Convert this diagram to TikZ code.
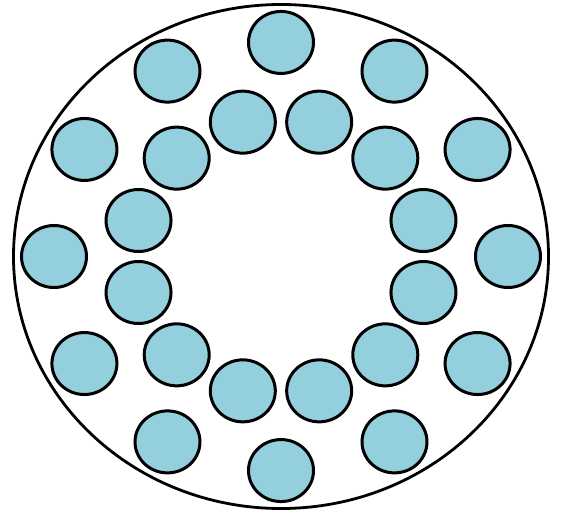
\documentclass[tikz,border=0pt]{standalone}
\usepackage{xcolor}
\definecolor{cSeat}{HTML}{93CFDC}
\definecolor{cLine}{HTML}{000000}
\usepackage{tikz}
\usetikzlibrary{shapes.geometric}
\tikzset{
  node-rim/.style={draw=cLine,line width=2.8pt,ellipse,inner sep=0pt,
    minimum width=535pt,minimum height=504pt},
  node-seat/.style={draw=cLine,line width=3pt,fill=cSeat,ellipse,inner sep=0pt,
    minimum width=65pt,minimum height=62pt},
}

\begin{document}
\begin{tikzpicture}[x=1pt,y=0.943pt]
  \useasboundingbox (-281pt,-257.5pt) rectangle (287pt,256.5pt);
  \node[node-rim] (rim) at (0,0) {};
  % outer ring
  \node[node-seat] (o1)  at (90:227)  {};
  \node[node-seat] (o2)  at (60:227)  {};
  \node[node-seat] (o3)  at (30:227)  {};
  \node[node-seat] (o4)  at (0:227)   {};
  \node[node-seat] (o5)  at (-30:227) {};
  \node[node-seat] (o6)  at (-60:227) {};
  \node[node-seat] (o7)  at (-90:227) {};
  \node[node-seat] (o8)  at (-120:227) {};
  \node[node-seat] (o9)  at (-150:227) {};
  \node[node-seat] (o10) at (180:227) {};
  \node[node-seat] (o11) at (150:227) {};
  \node[node-seat] (o12) at (120:227) {};
  % inner ring
  \node[node-seat] (i1)  at (75:147.5)  {};
  \node[node-seat] (i2)  at (45:147.5)  {};
  \node[node-seat] (i3)  at (15:147.5)  {};
  \node[node-seat] (i4)  at (-15:147.5) {};
  \node[node-seat] (i5)  at (-45:147.5) {};
  \node[node-seat] (i6)  at (-75:147.5) {};
  \node[node-seat] (i7)  at (-105:147.5) {};
  \node[node-seat] (i8)  at (-135:147.5) {};
  \node[node-seat] (i9)  at (-165:147.5) {};
  \node[node-seat] (i10) at (165:147.5) {};
  \node[node-seat] (i11) at (135:147.5) {};
  \node[node-seat] (i12) at (105:147.5) {};
\end{tikzpicture}
\end{document}
